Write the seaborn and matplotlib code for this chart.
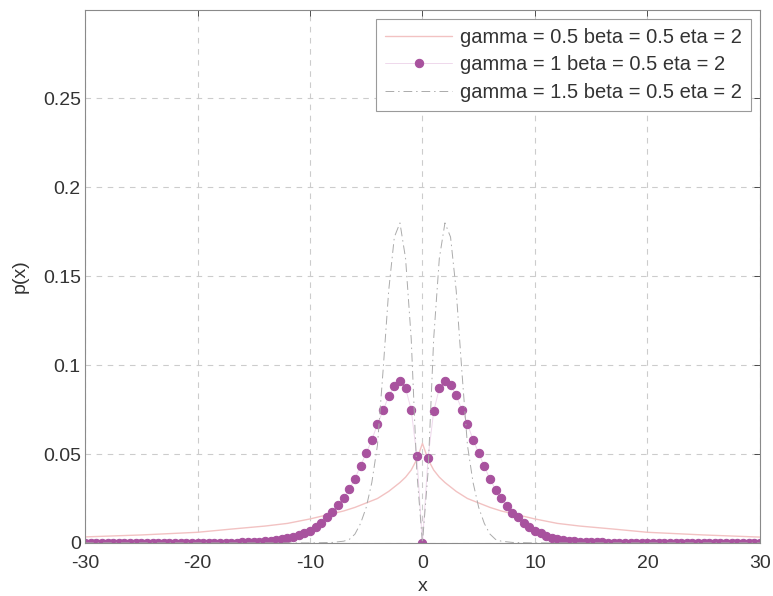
import numpy as np
import pandas as pd
import seaborn as sns
import matplotlib.pyplot as plt

sns.set_style("whitegrid")
plt.rcParams["font.family"] = ["Liberation Sans", "DejaVu Sans"]
plt.rcParams["axes.unicode_minus"] = False

LABELS = ["gamma = 0.5 beta = 0.5 eta = 2",
          "gamma = 1 beta = 0.5 eta = 2",
          "gamma = 1.5 beta = 0.5 eta = 2"]

# gamma = 0.5 (thin pink line)
x_g05 = [-30, -25, -20, -17, -14, -12, -10, -8, -7, -6, -5, -4, -3, -2, -1.5, -1, -0.5, 0,
         0.5, 1, 1.5, 2, 3, 4, 5, 6, 7, 8, 10, 12, 14, 17, 20, 25, 30]
p_g05 = [0.0034, 0.0045, 0.006, 0.0078, 0.0095, 0.011, 0.0135, 0.0165, 0.018, 0.020,
         0.0225, 0.025, 0.029, 0.034, 0.037, 0.041, 0.047, 0.056,
         0.047, 0.041, 0.037, 0.034, 0.029, 0.025, 0.0225, 0.020, 0.018, 0.0165, 0.0135,
         0.011, 0.0095, 0.0078, 0.006, 0.0045, 0.0033]

# gamma = 1 (dots, step 0.5 from -30 to 30)
x_g1 = np.arange(-30, 30.5, 0.5)
p_g1 = [0, 0, 0, 0, 0, 0, 0, 0, 0, 0, 0, 0, 0, 0, 0, 0, 0, 0, 0, 0, 0,
        0.0001, 0.0001, 0.0001, 0.0001, 0.0002, 0.0002, 0.0002, 0.0003, 0.0003,
        0.0005, 0.0007, 0.0009, 0.0012, 0.0016, 0.0021, 0.0027, 0.0034, 0.0043, 0.0055,
        0.0068, 0.0088, 0.0115, 0.0144, 0.0172, 0.0212, 0.0253, 0.0302, 0.0362, 0.0435,
        0.0505, 0.058, 0.0668, 0.0745, 0.0825, 0.0885, 0.091, 0.087, 0.075, 0.049,
        0,
        0.048, 0.074, 0.087, 0.091, 0.089, 0.083, 0.075, 0.067, 0.058, 0.0506,
        0.043, 0.036, 0.030, 0.0255, 0.021, 0.0168, 0.0146, 0.0114, 0.0092, 0.0069,
        0.0056, 0.0041, 0.003, 0.0022, 0.0016, 0.0012, 0.0009, 0.0007, 0.0005, 0.0004,
        0.0003, 0.0003, 0.0002, 0.0002, 0.0002, 0.0001, 0.0001, 0.0001, 0.0001,
        0, 0, 0, 0, 0, 0, 0, 0, 0, 0, 0, 0, 0, 0, 0, 0, 0, 0, 0, 0, 0]

# gamma = 1.5 (grey dash-dot line)
x_g15 = [-30, -10, -8, -7, -6.5, -6, -5.5, -5, -4.5, -4, -3.5, -3, -2.5, -2, -1.5, -1, -0.5, 0,
         0.5, 1, 1.5, 2, 2.5, 3, 3.5, 4, 4.5, 5, 5.5, 6, 6.5, 7, 8, 10, 30]
p_g15 = [0, 0, 0.0003, 0.001, 0.002, 0.005, 0.011, 0.02, 0.034, 0.055, 0.097, 0.142,
         0.172, 0.180, 0.16, 0.115, 0.04, 0,
         0.04, 0.115, 0.16, 0.180, 0.172, 0.142, 0.097, 0.055, 0.034, 0.02, 0.011,
         0.005, 0.002, 0.001, 0.0003, 0, 0]


def main():
  d05 = pd.DataFrame({"x": x_g05, "p": p_g05})
  d1 = pd.DataFrame({"x": x_g1, "p": p_g1})
  d15 = pd.DataFrame({"x": x_g15, "p": p_g15})

  fig = plt.figure(figsize=(7.73, 5.96), dpi=100)
  ax = fig.add_axes([0.110, 0.089, 0.873, 0.895])

  sns.lineplot(data=d05, x="x", y="p", ax=ax, color="#f2c2c2", linewidth=1.0,
               sort=False, estimator=None, label=LABELS[0])
  sns.lineplot(data=d1, x="x", y="p", ax=ax, color="#efd8ec", linewidth=0.7,
               marker="o", markersize=6, markerfacecolor="#a8529e",
               markeredgecolor="#a8529e", sort=False, estimator=None, label=LABELS[1])
  sns.lineplot(data=d15, x="x", y="p", ax=ax, color="#ababab", linewidth=0.7,
               linestyle=(0, (9, 4, 1.5, 4)), sort=False, estimator=None, label=LABELS[2])

  ax.set_xlim(-30, 30)
  ax.set_ylim(0, 0.3)
  ax.set_xticks(range(-30, 31, 10))
  ax.set_yticks([0, 0.05, 0.1, 0.15, 0.2, 0.25])
  ax.set_yticklabels(["0", "0.05", "0.1", "0.15", "0.2", "0.25"])
  ax.tick_params(direction="in", length=4, top=True, right=True, labelsize=14,
                 colors="#333333", pad=3, width=0.6)
  ax.tick_params(axis="x", pad=9)
  ax.grid(True, color="#cccccc", linestyle=(0, (5, 5)), linewidth=0.8)
  for s in ax.spines.values():
    s.set_color("#8a8a8a")
    s.set_linewidth(0.8)

  ax.set_xlabel("x", fontsize=14, color="#333333", labelpad=4)
  ax.set_ylabel("p(x)", fontsize=14, color="#333333", labelpad=10)

  leg = ax.legend(loc="upper right", fontsize=14.5, frameon=True, fancybox=False,
                  borderpad=0.45, labelspacing=0.42, handlelength=3.3,
                  handletextpad=0.4, borderaxespad=0.45, framealpha=1)
  leg.get_frame().set_edgecolor("#9a9a9a")
  leg.get_frame().set_linewidth(0.8)
  for t in leg.get_texts():
    t.set_color("#333333")

  plt.savefig("out.png", dpi=100)


if __name__ == "__main__":
  main()
